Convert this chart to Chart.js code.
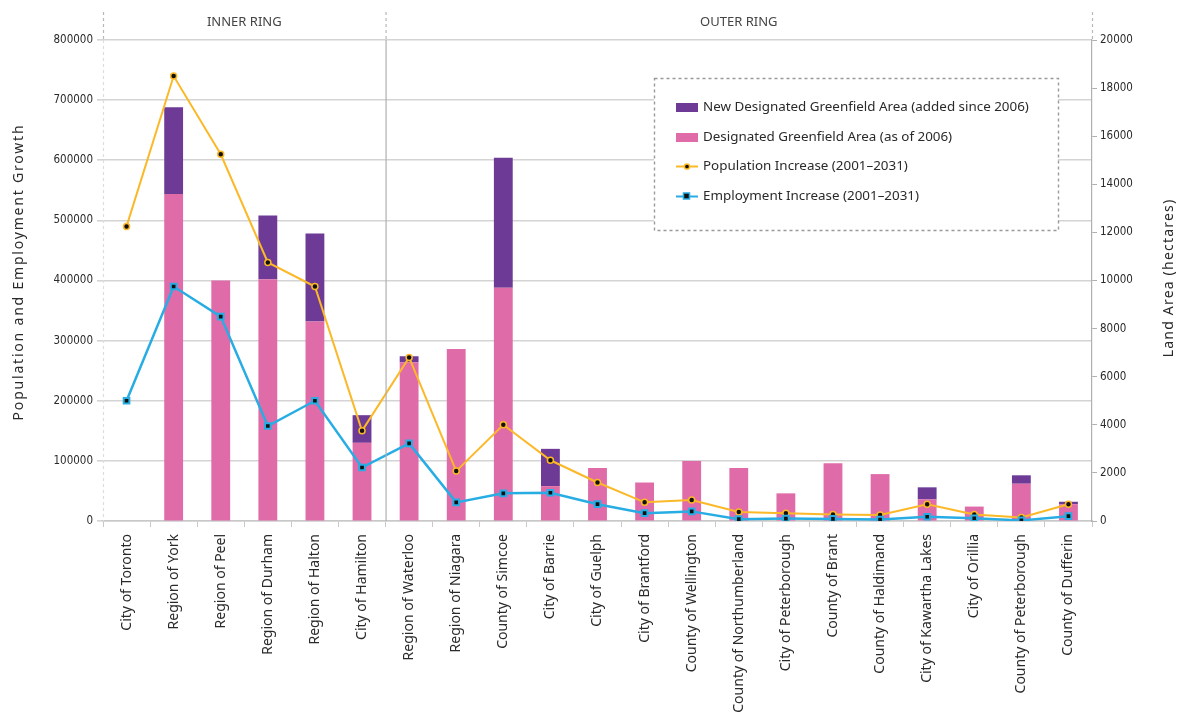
<!DOCTYPE html>
<html>
<head>
<meta charset="utf-8">
<script src="https://cdn.jsdelivr.net/npm/chart.js@4.4.1/dist/chart.umd.min.js"></script>
<style>
  html, body { margin: 0; padding: 0; background: #fff; }
  canvas { display: block; }
</style>
</head>
<body>
<canvas id="c" width="1180" height="719"></canvas>
<script>
// Municipalities, inner ring first (6), then outer ring
const categories = [
  'City of Toronto', 'Region of York', 'Region of Peel', 'Region of Durham',
  'Region of Halton', 'City of Hamilton', 'Region of Waterloo', 'Region of Niagara',
  'County of Simcoe', 'City of Barrie', 'City of Guelph', 'City of Brantford',
  'County of Wellington', 'County of Northumberland', 'City of Peterborough',
  'County of Brant', 'County of Haldimand', 'City of Kawartha Lakes',
  'City of Orillia', 'County of Peterborough', 'County of Dufferin'
];
const innerRingCount = 6;

// Land area, hectares (right axis)
const greenfield2006 = [0, 13600, 10000, 10050, 8300, 3250, 6600, 7150, 9700, 1450, 2200,
  1600, 2500, 2200, 1150, 2400, 1950, 900, 600, 1550, 700];
const greenfieldNew = [0, 3600, 0, 2650, 3650, 1150, 250, 0, 5400, 1550, 0,
  0, 0, 0, 0, 0, 0, 500, 0, 350, 100];

// Growth 2001–2031 (left axis)
const populationIncrease = [490000, 740000, 610000, 430000, 390000, 150000, 272000, 83000,
  160000, 101000, 64000, 31000, 35000, 15000, 13000, 11000, 10000, 28000, 11000, 6000, 28000];
const employmentIncrease = [200000, 390000, 340000, 158000, 200000, 89000, 129000, 31000,
  46000, 47000, 28000, 13000, 16000, 3000, 4000, 3500, 2500, 7000, 4500, 1000, 8000];

const leftTicks = [0, 100000, 200000, 300000, 400000, 500000, 600000, 700000, 800000];
const rightTicks = [0, 2000, 4000, 6000, 8000, 10000, 12000, 14000, 16000, 18000, 20000];

const ringLabels = ['INNER RING', 'OUTER RING'];
const leftTitle = 'Population and Employment Growth';
const rightTitle = 'Land Area (hectares)';

const PURPLE = '#6d3a95';
const PINK = '#e06ba9';
const GOLD = '#fbb827';
const BLUE = '#27ade3';
const GRID = '#d4d4d4';
const TEXT = '#2a2a2a';

const CHART_TOP = 40;
const CHART_LEFT = 103;
const CHART_RIGHT = 1092;
const CHART_BOTTOM = 521;

// Ring headers, divider, axis titles and the dashed legend box
const decorations = {
  id: 'decorations',
  afterDatasetsDraw(chart) {
    const { ctx, chartArea, scales } = chart;
    const x = scales.x;
    const divX = (x.getPixelForValue(innerRingCount - 1) + x.getPixelForValue(innerRingCount)) / 2;
    ctx.save();

    // dashed extensions above the plot
    ctx.strokeStyle = '#b8b8b8';
    ctx.lineWidth = 1.2;
    ctx.setLineDash([3, 3]);
    [chartArea.left, divX, chartArea.right].forEach(px => {
      ctx.beginPath();
      ctx.moveTo(px + 0.5, 12);
      ctx.lineTo(px + 0.5, chartArea.top);
      ctx.stroke();
    });
    // faint left edge
    ctx.strokeStyle = '#dddddd';
    ctx.beginPath();
    ctx.moveTo(chartArea.left + 0.5, chartArea.top);
    ctx.lineTo(chartArea.left + 0.5, chartArea.bottom);
    ctx.stroke();
    ctx.setLineDash([]);
    // ring divider
    ctx.strokeStyle = '#b0b0b0';
    ctx.lineWidth = 1.2;
    ctx.beginPath();
    ctx.moveTo(divX + 0.5, chartArea.top);
    ctx.lineTo(divX + 0.5, chartArea.bottom);
    ctx.stroke();

    // ring headers
    ctx.fillStyle = '#444';
    ctx.font = '13px "Noto Sans"';
    ctx.textAlign = 'center';
    ctx.textBaseline = 'middle';
    ctx.fillText(ringLabels[0], (chartArea.left + divX) / 2, 22);
    ctx.fillText(ringLabels[1], (divX + chartArea.right) / 2, 22);

    // axis titles (both read bottom-to-top)
    ctx.fillStyle = TEXT;
    ctx.font = '14px "Noto Sans"';
    ctx.letterSpacing = '1.8px';
    ctx.save();
    ctx.translate(19, 272);
    ctx.rotate(-Math.PI / 2);
    ctx.fillText(leftTitle, 0, 0);
    ctx.restore();
    ctx.letterSpacing = '1.2px';
    ctx.save();
    ctx.translate(1169, 278);
    ctx.rotate(-Math.PI / 2);
    ctx.fillText(rightTitle, 0, 0);
    ctx.restore();
    ctx.letterSpacing = '0px';

    // legend
    const bx = 654, by = 78, bw = 404, bh = 152;
    ctx.fillStyle = '#fff';
    ctx.fillRect(bx, by, bw, bh);
    ctx.strokeStyle = '#9a9a9a';
    ctx.lineWidth = 1.4;
    ctx.setLineDash([3, 3]);
    ctx.strokeRect(bx + 0.5, by + 0.5, bw, bh);
    ctx.setLineDash([]);

    const ds = chart.data.datasets;
    const rows = [ds[1], ds[0], ds[2], ds[3]];
    const rowY = [107, 137, 166, 196];
    ctx.font = '13.4px "Noto Sans"';
    ctx.textAlign = 'left';
    ctx.textBaseline = 'middle';
    rows.forEach((d, i) => {
      const y = rowY[i];
      if (d.type === 'bar') {
        ctx.fillStyle = d.backgroundColor;
        ctx.fillRect(676, y - 4, 22, 9);
      } else {
        ctx.strokeStyle = d.borderColor;
        ctx.lineWidth = 2;
        ctx.beginPath();
        ctx.moveTo(676, y + 0.5);
        ctx.lineTo(698, y + 0.5);
        ctx.stroke();
        ctx.fillStyle = '#111';
        ctx.strokeStyle = d.pointBorderColor;
        ctx.lineWidth = 1.5;
        ctx.beginPath();
        if (d.pointStyle === 'rect') {
          ctx.rect(683.5, y - 3, 6, 6);
        } else {
          ctx.arc(687, y + 0.5, 2.6, 0, Math.PI * 2);
        }
        ctx.fill();
        ctx.stroke();
      }
      ctx.fillStyle = TEXT;
      ctx.fillText(d.label, 703, y);
    });
    ctx.restore();
  }
};

new Chart(document.getElementById('c'), {
  type: 'bar',
  data: {
    labels: categories,
    datasets: [
      {
        type: 'bar', label: 'Designated Greenfield Area (as of 2006)',
        data: greenfield2006, backgroundColor: PINK, yAxisID: 'y1', stack: 'land',
        barPercentage: 0.8, categoryPercentage: 0.5, order: 2
      },
      {
        type: 'bar', label: 'New Designated Greenfield Area (added since 2006)',
        data: greenfieldNew, backgroundColor: PURPLE, yAxisID: 'y1', stack: 'land',
        barPercentage: 0.8, categoryPercentage: 0.5, order: 2
      },
      {
        type: 'line', label: 'Population Increase (2001–2031)',
        data: populationIncrease, yAxisID: 'y', borderColor: GOLD, borderWidth: 2,
        pointStyle: 'circle', pointRadius: 3, pointBackgroundColor: '#111',
        pointBorderColor: GOLD, pointBorderWidth: 1.5, tension: 0, order: 1
      },
      {
        type: 'line', label: 'Employment Increase (2001–2031)',
        data: employmentIncrease, yAxisID: 'y', borderColor: BLUE, borderWidth: 2.5,
        pointStyle: 'rect', pointRadius: 4, pointBackgroundColor: '#111',
        pointBorderColor: BLUE, pointBorderWidth: 2, tension: 0, order: 0
      }
    ]
  },
  options: {
    responsive: false,
    animation: false,
    layout: { padding: { top: CHART_TOP, left: 0, right: 0, bottom: 0 } },
    plugins: { legend: { display: false }, tooltip: { enabled: false } },
    scales: {
      x: {
        stacked: true,
        offset: true,
        grid: { offset: true, drawOnChartArea: false, tickLength: 6, color: '#c8c8c8', lineWidth: 1 },
        border: { color: '#c8c8c8', width: 1.5 },
        ticks: {
          autoSkip: false, maxRotation: 90, minRotation: 90, padding: 7,
          color: TEXT, font: { family: '"Noto Sans"', size: 14 }
        },
        afterFit(s) { s.height = 719 - CHART_BOTTOM; }
      },
      y: {
        position: 'left',
        min: 0, max: 800000,
        afterBuildTicks(s) { s.ticks = leftTicks.map(v => ({ value: v })); },
        grid: { color: GRID, lineWidth: 1.6, tickLength: 6 },
        border: { display: false },
        ticks: {
          color: TEXT, padding: 4,
          font: { family: '"DejaVu Sans Condensed"', size: 11.5 },
          callback: v => String(v)
        },
        afterFit(s) { s.width = CHART_LEFT; }
      },
      y1: {
        position: 'right',
        stacked: true,
        min: 0, max: 20000,
        afterBuildTicks(s) { s.ticks = rightTicks.map(v => ({ value: v })); },
        grid: { drawOnChartArea: false, tickLength: 5, color: '#b0b0b0' },
        border: { color: '#b0b0b0', width: 1.2 },
        ticks: {
          color: TEXT, padding: 3,
          font: { family: '"DejaVu Sans Condensed"', size: 11.5 },
          callback: v => String(v)
        },
        afterFit(s) { s.width = 1180 - CHART_RIGHT; }
      }
    }
  },
  plugins: [decorations]
});
</script>
</body>
</html>
